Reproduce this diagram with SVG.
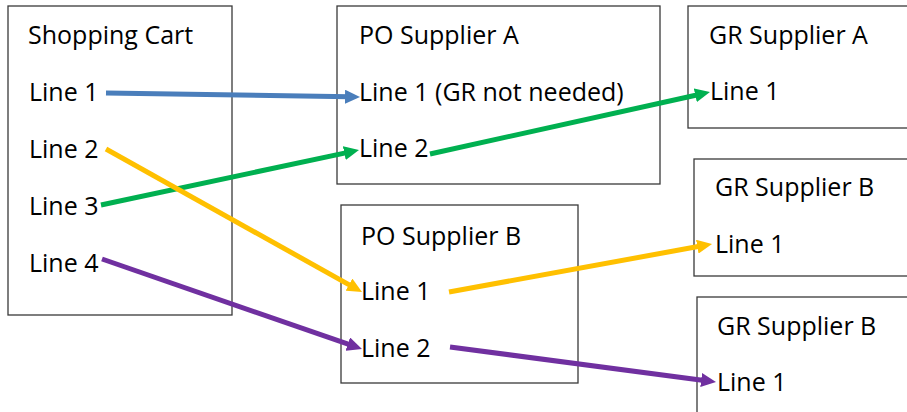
<svg xmlns="http://www.w3.org/2000/svg" width="907" height="412" viewBox="0 0 907 412">
  <style>
    .box { fill: #ffffff; stroke: #3a3a3a; stroke-width: 1.3; }
    .lbl { font-family: "Open Sans", "Liberation Sans", sans-serif; font-size: 25px; fill: #000000; }
    .con { fill: none; stroke-width: 5; stroke-linecap: butt; }
    .blue { stroke: #4a7ebb; }
    .green { stroke: #00b050; }
    .yellow { stroke: #ffc000; }
    .purple { stroke: #7030a0; }
  </style>
  <defs>
    <marker id="ah-blue" markerUnits="userSpaceOnUse" markerWidth="16" markerHeight="14" refX="5" refY="7" orient="auto">
      <path d="M0,0 L15,7 L0,14 Z" fill="#4a7ebb"/>
    </marker>
    <marker id="ah-green" markerUnits="userSpaceOnUse" markerWidth="16" markerHeight="14" refX="5" refY="7" orient="auto">
      <path d="M0,0 L15,7 L0,14 Z" fill="#00b050"/>
    </marker>
    <marker id="ah-yellow" markerUnits="userSpaceOnUse" markerWidth="16" markerHeight="14" refX="5" refY="7" orient="auto">
      <path d="M0,0 L15,7 L0,14 Z" fill="#ffc000"/>
    </marker>
    <marker id="ah-purple" markerUnits="userSpaceOnUse" markerWidth="16" markerHeight="14" refX="5" refY="7" orient="auto">
      <path d="M0,0 L15,7 L0,14 Z" fill="#7030a0"/>
    </marker>
  </defs>

  <rect width="907" height="412" fill="#ffffff"/>

  <g id="shopping-cart">
    <rect class="box" x="8" y="6" width="224" height="309"/>
    <text class="lbl" x="28" y="44">Shopping Cart</text>
    <text class="lbl" x="29" y="101">Line 1</text>
    <text class="lbl" x="29" y="158">Line 2</text>
    <text class="lbl" x="29" y="215">Line 3</text>
    <text class="lbl" x="29" y="272">Line 4</text>
  </g>

  <g id="po-supplier-a">
    <rect class="box" x="337" y="6" width="323" height="178"/>
    <text class="lbl" x="359" y="44">PO Supplier A</text>
    <text class="lbl" x="359" y="101">Line 1 (GR not needed)</text>
    <text class="lbl" x="359" y="157">Line 2</text>
  </g>

  <g id="po-supplier-b">
    <rect class="box" x="341" y="205" width="237" height="178"/>
    <text class="lbl" x="361" y="245">PO Supplier B</text>
    <text class="lbl" x="361" y="300">Line 1</text>
    <text class="lbl" x="361" y="357">Line 2</text>
  </g>

  <g id="gr-supplier-a">
    <rect class="box" x="688" y="6" width="230" height="122"/>
    <text class="lbl" x="709" y="44">GR Supplier A</text>
    <text class="lbl" x="710" y="100">Line 1</text>
  </g>

  <g id="gr-supplier-b-1">
    <rect class="box" x="694" y="159" width="224" height="117"/>
    <text class="lbl" x="715" y="196">GR Supplier B</text>
    <text class="lbl" x="715" y="253">Line 1</text>
  </g>

  <g id="gr-supplier-b-2">
    <rect class="box" x="697" y="297" width="221" height="130"/>
    <text class="lbl" x="717" y="335">GR Supplier B</text>
    <text class="lbl" x="717" y="391">Line 1</text>
  </g>

  <g id="connectors">
    <line class="con blue" x1="106" y1="93" x2="350" y2="96.8" marker-end="url(#ah-blue)"/>
    <line class="con green" x1="101" y1="205" x2="349.2" y2="152.1" marker-end="url(#ah-green)"/>
    <line class="con green" x1="430" y1="154" x2="700.2" y2="94.2" marker-end="url(#ah-green)"/>
    <line class="con yellow" x1="106" y1="149" x2="353.3" y2="287.1" marker-end="url(#ah-yellow)"/>
    <line class="con yellow" x1="449" y1="292" x2="702.2" y2="245.8" marker-end="url(#ah-yellow)"/>
    <line class="con purple" x1="102" y1="259" x2="352.5" y2="345.7" marker-end="url(#ah-purple)"/>
    <line class="con purple" x1="450" y1="347" x2="706.1" y2="380.7" marker-end="url(#ah-purple)"/>
  </g>
</svg>
